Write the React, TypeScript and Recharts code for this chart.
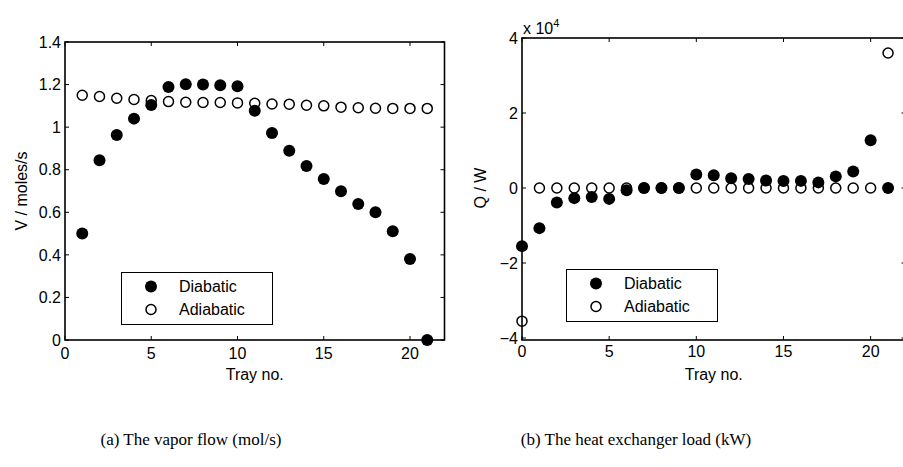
import React from "react"
import { ScatterChart, Scatter, XAxis, YAxis } from "recharts"

// tray numbers
const traysV = [1, 2, 3, 4, 5, 6, 7, 8, 9, 10, 11, 12, 13, 14, 15, 16, 17, 18, 19, 20, 21]
const traysQ = [0, 1, 2, 3, 4, 5, 6, 7, 8, 9, 10, 11, 12, 13, 14, 15, 16, 17, 18, 19, 20, 21]

// (a) vapor flow, moles/s
const vDiabatic = [0.5, 0.845, 0.963, 1.04, 1.104, 1.189, 1.202, 1.2, 1.197, 1.192, 1.077, 0.972, 0.889, 0.817, 0.756, 0.699, 0.639, 0.6, 0.511, 0.381, 0.0]
const vAdiabatic = [1.15, 1.144, 1.136, 1.13, 1.125, 1.12, 1.117, 1.116, 1.116, 1.114, 1.112, 1.109, 1.108, 1.103, 1.1, 1.094, 1.091, 1.089, 1.088, 1.088, 1.088]

// (b) heat exchanger load, W
const qDiabatic = [-15500, -10700, -3870, -2700, -2370, -2900, -600, 0, 0, 0, 3600, 3400, 2600, 2400, 2000, 1850, 1900, 1500, 3100, 4400, 12750, 0]
const qAdiabatic = [-35500, 0, 0, 0, 0, 0, 0, 0, 0, 0, 0, 0, 0, 0, 0, 0, 0, 0, 0, 0, 0, 36000]

const xTicks = [0, 5, 10, 15, 20]
const vTicks = [0, 0.2, 0.4, 0.6, 0.8, 1, 1.2, 1.4]
const qTicks = [-40000, -20000, 0, 20000, 40000]

const FONT = "'Liberation Sans', Arial, sans-serif"
const FS = 16

type Box = { left: number, right: number, top: number, bottom: number }

const zip = (xs: number[], ys: number[]) => xs.map((x, i) => ({ x, y: ys[i] }))

const dot = (p: any) => <circle cx={p.cx} cy={p.cy} r={6} fill="#000" />
const ring = (p: any) => <circle cx={p.cx} cy={p.cy} r={5} fill="none" stroke="#000" strokeWidth={1.5} />

// ticks point inward, like matlab; first tick also draws the axes frame
function makeXTick(b: Box) {
    return (p: any) => (
        <g>
            {p.index === 0 && (
                <rect x={b.left} y={b.top} width={b.right - b.left} height={b.bottom - b.top}
                    fill="none" stroke="#000" strokeWidth={1.6} />
            )}
            <line x1={p.x} x2={p.x} y1={b.bottom} y2={b.bottom - 4} stroke="#000" />
            <line x1={p.x} x2={p.x} y1={b.top} y2={b.top + 4} stroke="#000" />
            <text x={p.x} y={p.y} dy="0.71em" textAnchor="middle" fontFamily={FONT} fontSize={FS} fill="#000">
                {p.payload.value}
            </text>
        </g>
    )
}

function makeYTick(b: Box, fmt: (v: number) => string) {
    return (p: any) => (
        <g>
            <line x1={b.left} x2={b.left + 4} y1={p.y} y2={p.y} stroke="#000" />
            <line x1={b.right} x2={b.right - 4} y1={p.y} y2={p.y} stroke="#000" />
            <text x={p.x} y={p.y} dy="0.36em" textAnchor="end" fontFamily={FONT} fontSize={FS} fill="#000">
                {fmt(p.payload.value)}
            </text>
        </g>
    )
}

function LegendBox({ left, top }: { left: number, top: number }) {
    const row = (filled: boolean, label: string) => (
        <div style={{ display: "flex", alignItems: "center", height: 23 }}>
            <svg width={57} height={23}>
                {filled
                    ? <circle cx={29} cy={11.5} r={6} fill="#000" />
                    : <circle cx={29} cy={11.5} r={5} fill="none" stroke="#000" strokeWidth={1.5} />}
            </svg>
            <span>{label}</span>
        </div>
    )
    return (
        <div style={{
            position: "absolute", left, top, width: 150, height: 49, border: "1.5px solid #000",
            background: "#fff", fontFamily: FONT, fontSize: FS, paddingTop: 2, boxSizing: "content-box",
        }}>
            {row(true, "Diabatic")}
            {row(false, "Adiabatic")}
        </div>
    )
}

const fmtV = (v: number) => String(v)
const fmtQ = (v: number) => (v < 0 ? "\u2212" + Math.abs(v / 10000) : String(v / 10000))

// plot areas, in each chart's own coordinates
const boxV: Box = { left: 65, right: 444.5, top: 42, bottom: 340 }
const boxQ: Box = { left: 72, right: 455.5, top: 38, bottom: 340 }

export default function App() {
    return (
        <div style={{ position: "absolute", left: 0, top: 0, width: 903, height: 467, overflow: "hidden", background: "#fff" }}>
            {/* (a) vapor flow */}
            <div style={{ position: "absolute", left: 0, top: 0 }}>
                <ScatterChart width={460} height={400} margin={{ top: 42, right: 15.5, bottom: 20, left: 0 }}>
                    <XAxis type="number" dataKey="x" domain={[0, 22]} ticks={xTicks} axisLine={false} tickLine={false}
                        tickSize={0} tickMargin={8} height={40} tick={makeXTick(boxV)}
                        label={{ value: "Tray no.", position: "insideBottom", offset: 0, fill: "#000", fontFamily: FONT, fontSize: FS }} />
                    <YAxis type="number" dataKey="y" domain={[0, 1.4]} ticks={vTicks} axisLine={false} tickLine={false}
                        tickSize={0} tickMargin={4} width={65} tick={makeYTick(boxV, fmtV)}
                        label={{ value: "V / moles/s", angle: -90, position: "insideLeft", offset: 21, fill: "#000", fontFamily: FONT, fontSize: FS, style: { textAnchor: "middle" } }} />
                    <Scatter name="Diabatic" data={zip(traysV, vDiabatic)} shape={dot} isAnimationActive={false} />
                    <Scatter name="Adiabatic" data={zip(traysV, vAdiabatic)} shape={ring} isAnimationActive={false} />
                </ScatterChart>
            </div>
            <LegendBox left={121} top={272} />

            {/* (b) heat exchanger load */}
            <div style={{ position: "absolute", left: 450, top: 0 }}>
                <ScatterChart width={470} height={400} margin={{ top: 38, right: 14.5, bottom: 20, left: 0 }}>
                    <XAxis type="number" dataKey="x" domain={[0, 22]} ticks={xTicks} axisLine={false} tickLine={false}
                        tickSize={0} tickMargin={8} height={42} tick={makeXTick(boxQ)}
                        label={{ value: "Tray no.", position: "insideBottom", offset: 0, fill: "#000", fontFamily: FONT, fontSize: FS }} />
                    <YAxis type="number" dataKey="y" domain={[-40000, 40000]} ticks={qTicks} axisLine={false} tickLine={false}
                        tickSize={0} tickMargin={4} width={72} tick={makeYTick(boxQ, fmtQ)}
                        label={{ value: "Q / W", angle: -90, position: "insideLeft", offset: 30, fill: "#000", fontFamily: FONT, fontSize: FS, style: { textAnchor: "middle" } }} />
                    <Scatter name="Diabatic" data={zip(traysQ, qDiabatic)} shape={dot} isAnimationActive={false} />
                    <Scatter name="Adiabatic" data={zip(traysQ, qAdiabatic)} shape={ring} isAnimationActive={false} />
                </ScatterChart>
            </div>
            <div style={{ position: "absolute", left: 523, top: 20, fontFamily: FONT, fontSize: FS, lineHeight: "18px", whiteSpace: "nowrap" }}>
                x 10<span style={{ fontSize: 11, position: "relative", top: -7 }}>4</span>
            </div>
            <LegendBox left={566} top={269} />

            {/* captions */}
            <div style={{ position: "absolute", left: 41, width: 300, top: 430, textAlign: "center", fontFamily: "'Liberation Serif', serif", fontSize: 17 }}>
                (a) The vapor flow (mol/s)
            </div>
            <div style={{ position: "absolute", left: 486, width: 300, top: 430, textAlign: "center", fontFamily: "'Liberation Serif', serif", fontSize: 17 }}>
                (b) The heat exchanger load (kW)
            </div>
        </div>
    )
}
